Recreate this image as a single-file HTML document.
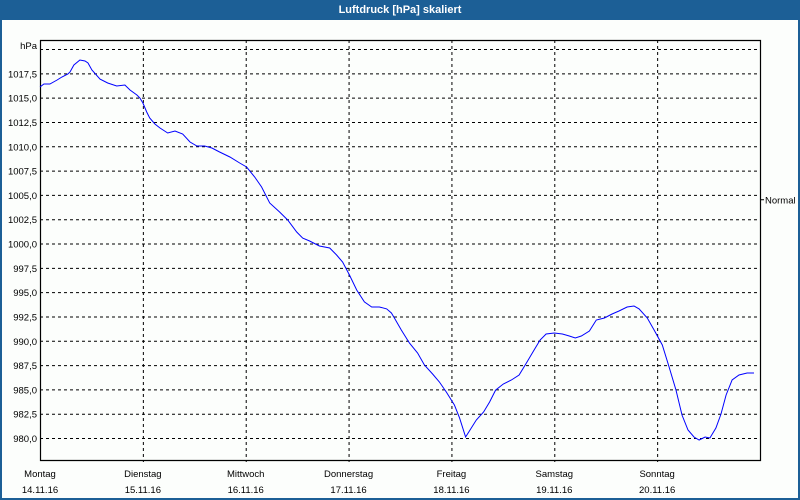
<!DOCTYPE html>
<html><head><meta charset="utf-8"><style>
html,body{margin:0;padding:0;width:800px;height:500px;overflow:hidden;background:#fff;font-family:"Liberation Sans",sans-serif}
</style></head><body>
<svg width="800" height="500" xmlns="http://www.w3.org/2000/svg" font-family="Liberation Sans, sans-serif">
<rect x="0" y="0" width="800" height="500" fill="#1c5f96"/>
<rect x="2" y="20" width="796" height="478" fill="#fcfefc"/>
<text x="400" y="13" text-anchor="middle" font-size="11" font-weight="bold" fill="#fff">Luftdruck [hPa] skaliert</text>
<g id="grid"></g>
<g id="axes"></g>
<path id="line" fill="none" stroke="#0000ff" stroke-width="1"/>
</svg>
<script>
const hours=[0,0.9,2.3,4,5.1,6.5,7,7.9,9.3,10.5,11.2,12.1,14,15.8,17.9,19.8,21,22.6,23.3,24,24.9,25.6,26.8,28,29.8,31.5,33.3,35,36.6,38.4,40.1,41.9,44.3,46.6,48.2,50.1,51.7,53.6,55.9,57.8,59.9,61.3,62.9,65.2,67.6,69.2,70.6,72.2,73.9,75.7,77.4,79.2,80.9,82,82.7,84.3,86.2,88.1,89.7,91.6,93.2,94.8,96.7,97.9,99.3,100.2,101.8,103.5,104.9,106.3,108.1,110,111.8,113.5,115.3,116.7,118.1,120,121.9,123.5,124.9,126.3,128.2,129.8,131.7,133.5,135.1,137,138.6,139.8,141.7,143.3,145.2,146.8,148.4,149.8,151.2,152.6,153.8,155.2,156.3,157.7,158.9,160.1,161.5,163.1,165,166.6];
const pressure=[1016.09,1016.4,1016.4,1016.81,1017.12,1017.43,1017.63,1018.35,1018.87,1018.77,1018.56,1017.84,1016.91,1016.5,1016.2,1016.3,1015.78,1015.27,1014.96,1014.45,1013.52,1012.9,1012.29,1011.88,1011.36,1011.57,1011.26,1010.44,1010.03,1010.03,1009.82,1009.41,1008.89,1008.28,1007.87,1006.84,1005.81,1004.16,1003.24,1002.42,1001.18,1000.56,1000.26,999.74,999.54,998.82,998.1,996.77,995.22,993.99,993.47,993.47,993.27,992.85,992.34,991.11,989.77,988.74,987.51,986.58,985.76,984.73,983.39,982.05,980.1,980.72,981.85,982.67,983.7,984.93,985.55,985.96,986.48,987.71,989.05,990.08,990.69,990.8,990.69,990.49,990.28,990.49,991.0,992.13,992.34,992.75,993.06,993.47,993.57,993.27,992.34,991.11,989.56,987.3,984.93,982.36,980.82,980.1,979.79,980.1,980.0,981.03,982.47,984.42,985.96,986.48,986.68,986.68];
const yTicks=[1017.5,1015,1012.5,1010,1007.5,1005,1002.5,1000,997.5,995,992.5,990,987.5,985,982.5,980];
const gridExtra=[1020];
const dayNames=["Montag","Dienstag","Mittwoch","Donnerstag","Freitag","Samstag","Sonntag"];
const dayDates=["14.11.16","15.11.16","16.11.16","17.11.16","18.11.16","19.11.16","20.11.16"];
const normalValue=1004.5;

const X0=40,X1=760,Y0=40,Y1=460;
const xs=h=>X0+h*(X1-X0)/168;
const ys=p=>49+(1020-p)*(438-49)/40;
const NS="http://www.w3.org/2000/svg";
const grid=document.getElementById('grid'),axes=document.getElementById('axes');
function mk(tag,attrs,parent){const e=document.createElementNS(NS,tag);for(const k in attrs)e.setAttribute(k,attrs[k]);parent.appendChild(e);return e;}
gridExtra.concat(yTicks).forEach(v=>{
  const l=mk('line',{x1:X0,x2:X1,y1:ys(v)+0.5,y2:ys(v)+0.5,stroke:'#000','stroke-dasharray':'3,3'},grid);
  
  
});
yTicks.forEach(v=>{
  const t=mk('text',{x:37,y:ys(v)+4,'text-anchor':'end','font-size':'9.5',fill:'#000'},axes);
  t.textContent=v.toFixed(1).replace('.',',');
  
  
});
dayNames.forEach((d,i)=>{
  const x=xs(i*24);
  if(i>0){const l=mk('line',{x1:x+0.5,x2:x+0.5,y1:Y0,y2:Y1+2,stroke:'#000','stroke-dasharray':'3,3'},grid);
  
  }
  const t=mk('text',{x:x,y:477,'text-anchor':'middle','font-size':'9.5',fill:'#000'},axes);
  t.textContent=d;
  
  
  const t2=mk('text',{x:x,y:493,'text-anchor':'middle','font-size':'9.5',fill:'#000'},axes);
  t2.textContent=dayDates[i];
  
  
});
const fr=mk('path',{d:`M${X0+0.5},${Y0} V${Y1+0.5} H${X1+0.5} V${Y0+0.5} H${X0}`,fill:'none',stroke:'#000','stroke-width':1.2},axes);


const u=mk('text',{x:37,y:49,'text-anchor':'end','font-size':'9.5',fill:'#000'},axes);
u.textContent='hPa';


const nt=mk('line',{x1:X1,x2:X1+4,y1:ys(normalValue),y2:ys(normalValue),stroke:'#000'},axes);


const n=mk('text',{x:X1+5,y:ys(normalValue)+4,'font-size':'9.5',fill:'#000'},axes);
n.textContent='Normal';


document.getElementById('line').setAttribute('d',hours.map((h,i)=>(i?'L':'M')+xs(h).toFixed(1)+','+ys(pressure[i]).toFixed(1)).join(' '));
</script>
</body></html>
